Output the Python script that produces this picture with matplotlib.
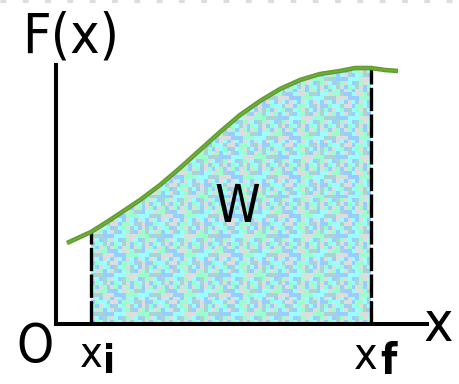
import numpy as np
import matplotlib
matplotlib.use("Agg")
import matplotlib.pyplot as plt
from matplotlib.patches import Polygon

# curve F(x) (arbitrary units, origin at the axes corner)
curve_x = [1.1, 3.5, 5.4, 8.4, 10.4, 12.4, 14.4, 16.4, 18.4, 20.4, 22.4,
           24.4, 26.4, 28.4, 29.9, 31.5, 32.9, 34.2]
curve_f = [8.1, 9.2, 10.4, 12.4, 13.9, 15.6, 17.4, 19.2, 20.9, 22.3, 23.5,
           24.4, 25.0, 25.3, 25.6, 25.6, 25.4, 25.3]
x_i = 3.5
x_f = 31.5
x_max = 37.1
f_max = 25.9

plt.rcParams['font.family'] = ['DejaVu Sans']
plt.rcParams['font.stretch'] = 'condensed'

W, H = 459, 384
fig = plt.figure(figsize=(W / 100, H / 100), dpi=100)
ax = fig.add_axes([56 / W, 60 / H, (427 - 56) / W, (324 - 65) / H])
ax.set_xlim(0, x_max)
ax.set_ylim(0, f_max)
for s in ['top', 'right']:
    ax.spines[s].set_visible(False)
for s in ['left', 'bottom']:
    ax.spines[s].set_linewidth(2.9)
    ax.spines[s].set_capstyle('projecting')
ax.set_xticks([])
ax.set_yticks([])
ax.patch.set_alpha(0)

# shaded area W between x_i and x_f, with a dithered look
cx = np.array(curve_x)
cf = np.array(curve_f)
sel = (cx >= x_i) & (cx <= x_f)
verts = list(zip(cx[sel], cf[sel])) + [(x_f, 0), (x_i, 0)]
poly = Polygon(verts, closed=True, facecolor='none', edgecolor='none')
ax.add_patch(poly)

palette = np.array([[153, 204, 255], [153, 255, 255], [221, 221, 221],
                    [153, 255, 204], [170, 210, 215]]) / 255.0
ny, nx = 66, 72
jj, ii = np.meshgrid(np.arange(nx), np.arange(ny))
idx = (ii * 7 + jj * 13 + (ii * jj) % 5 + (ii // 2) * (jj // 3)) % 5
tex = palette[idx]
im = ax.imshow(tex, extent=[x_i, x_f, 0, f_max], origin='lower',
               interpolation='nearest', aspect='auto', zorder=1)
im.set_clip_path(poly)

# dashed bounds
ax.plot([x_i, x_i], [0, cf[cx == x_i][0]], color='black', lw=2.4,
        dashes=(7, 1), zorder=2, solid_capstyle='butt')
ax.plot([x_f, x_f], [0, cf[cx == x_f][0]], color='black', lw=2.4,
        dashes=(7, 1), zorder=2, solid_capstyle='butt')

# the curve
ax.plot(curve_x, curve_f, color='#669933', lw=3.3, zorder=3,
        solid_capstyle='butt')
ax.plot(curve_x, curve_f, color='#66cc33', lw=1.0, zorder=3, alpha=0.6)

# dotted line at very top of picture
fig.add_artist(plt.Line2D([0, 1], [0.997, 0.997], transform=fig.transFigure,
                          color='#dddddd', lw=2.2, dashes=(1.9, 5.4)))

# labels
kw = dict(transform=fig.transFigure, color='black', ha='center', va='baseline')
fig.text(71 / W, 1 - 53 / H, 'F(x)', fontsize=40, **kw)
fig.text(35 / W, 1 - 362 / H, 'O', fontsize=38, **kw)
fig.text(438 / W, 1 - 341 / H, 'x', fontsize=40, **kw)
fig.text(237 / W, 1 - 222 / H, 'W', fontsize=37, **kw)
fig.text(91 / W, 1 - 367 / H, 'x', fontsize=31, **kw)
fig.text(109.5 / W, 1 - 373 / H, 'i', fontsize=28, fontweight='bold', **kw)
fig.text(366 / W, 1 - 369 / H, 'x', fontsize=32, **kw)
fig.text(388 / W, 1 - 374 / H, 'f', fontsize=30, fontweight='bold', **kw)

fig.savefig('out.png', dpi=100)
